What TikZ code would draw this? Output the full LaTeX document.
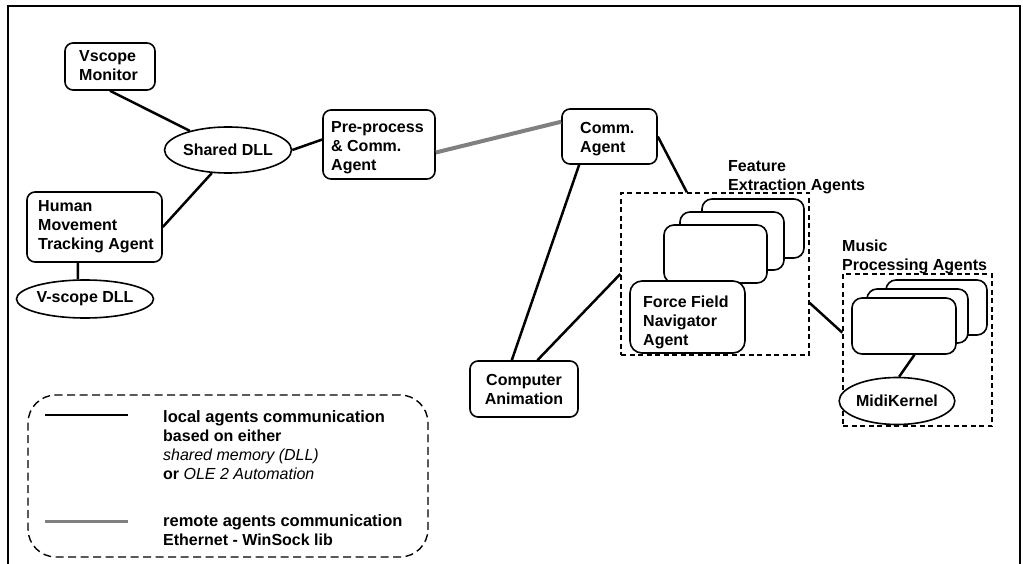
\documentclass[tikz,border=0pt]{standalone}
\usepackage{fontspec}
\setmainfont{Liberation Sans}
\usetikzlibrary{shapes.geometric}
\begin{document}
\begin{tikzpicture}[x=1pt,y=-1pt,
  every node/.style={font=\fontsize{16}{19}\selectfont\bfseries},
  box/.style={draw, line width=1.6pt, rounded corners=8pt, fill=white, inner sep=0pt},
  card/.style={draw, line width=1.6pt, rounded corners=10pt, fill=white, inner sep=0pt},
  oval/.style={draw, ellipse, line width=1.6pt, inner sep=0pt, fill=white},
  txt/.style={inner sep=0pt, align=left, anchor=west},
  link/.style={line width=2.5pt},
  remote/.style={line width=4pt, draw=black!50},
  group/.style={draw, line width=1.4pt, dash pattern=on 5pt off 3.5pt},
  legendbox/.style={draw, line width=1.4pt, dash pattern=on 8pt off 4.5pt, rounded corners=28pt}
]
\useasboundingbox (0,0) rectangle (1023,564);
\fill[white] (0,0) rectangle (1023,564);
% outer frame
\draw[line width=1.6pt] (8,564) -- (8,6) -- (1020,6) -- (1020,564);

% nodes
\node[box, minimum width=90pt, minimum height=47pt] (vm) at (110,66.5) {};
\node[txt] (vmt) at (79,66) {Vscope\\Monitor};

\node[oval, minimum width=98pt, minimum height=46pt] (sdll) at (228,150) {Shared DLL};

\node[box, minimum width=135pt, minimum height=70pt] (hm) at (94.5,227) {};
\node[txt] (hmt) at (38,227) {Human\\Movement\\Tracking Agent};

\node[oval, minimum width=120pt, minimum height=38pt] (vdll) at (85,299) {V-scope DLL};

\node[box, minimum width=112pt, minimum height=69pt] (pre) at (379,144.5) {};
\node[txt] (pret) at (331,148) {Pre-process\\\& Comm.\\Agent};

\node[box, minimum width=95pt, minimum height=55pt] (comm) at (609.5,136.5) {};
\node[txt] (commt) at (580,139) {Comm.\\Agent};

\node[box, minimum width=108pt, minimum height=56pt, align=center] (ca) at (524,389) {Computer\\Animation};

% feature extraction group
\node[group, minimum width=188pt, minimum height=162pt, inner sep=0pt] (feat) at (715,274) {};
\node[txt] (featt) at (728,177) {\fontsize{16}{20}\selectfont Feature\\Extraction Agents};
\node[card, minimum width=102pt, minimum height=59pt] (fc3) at (753,228.5) {};
\node[card, minimum width=104pt, minimum height=58pt] (fc2) at (732,241) {};
\node[card, minimum width=103pt, minimum height=58pt] (fc1) at (715.5,254) {};
\node[box, rounded corners=12pt, minimum width=115pt, minimum height=72pt] (ff) at (687.5,317) {};
\node[txt] (fft) at (643,322) {Force Field\\Navigator\\Agent};

% music processing group
\node[group, minimum width=149pt, minimum height=152pt, inner sep=0pt] (mus) at (917.5,350) {};
\node[txt] (must) at (842,256.5) {Music\\Processing Agents};
\node[card, minimum width=101pt, minimum height=55pt] (mc3) at (936.5,307.5) {};
\node[card, minimum width=101pt, minimum height=54pt] (mc2) at (917.5,316) {};
\node[card, minimum width=104pt, minimum height=56pt] (mc1) at (904,326) {};
\node[oval, minimum width=97pt, minimum height=47pt] (mk) at (897,401) {MidiKernel};

% connectors
\draw[link] (vm.south) -- (sdll);
\draw[link] (sdll.235) -- (hm.east);
\draw[link] (hm.245) -- (vdll.110);
\draw[link] (sdll.east) -- (pre.175);
\draw[remote] (pre.352) -- (comm.163);
\draw[link] (comm.east) -- (feat.109);
\draw[link] (comm.223) -- (ca.113);
\draw[link] (ca.65) -- (feat.west);
\draw[link] (feat.-17) -- (mus.167);
\draw[link] (mc1.290) -- (mk.85);

% legend
\node[legendbox, minimum width=400pt, minimum height=162pt, inner sep=0pt] (leg) at (228,476) {};
\coordinate (l1a) at (45,415);
\coordinate (l1b) at (128,415);
\coordinate (l2a) at (45,521);
\coordinate (l2b) at (128,521);
\draw[line width=2.2pt] (l1a) -- (l1b);
\draw[line width=3pt, draw=black!50] (l2a) -- (l2b);
\node[txt] (lt1) at (163,445) {\fontsize{16.5}{20}\selectfont local agents communication\\based on either\\{\mdseries\itshape shared memory (DLL)}\\or {\mdseries\itshape OLE 2 Automation}};
\node[txt] (lt2) at (163,530.5) {\fontsize{16.5}{19}\selectfont remote agents communication\\Ethernet - WinSock lib};
\end{tikzpicture}
\end{document}
